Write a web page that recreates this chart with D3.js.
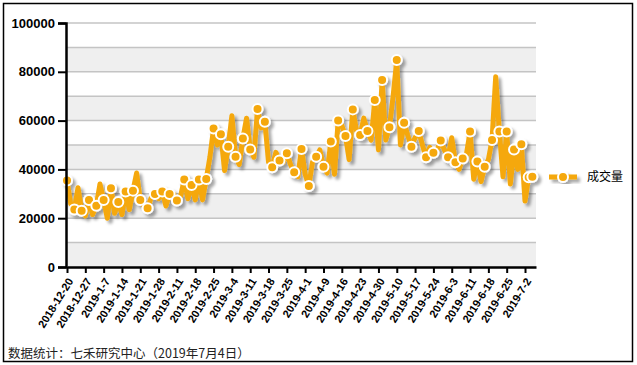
<!DOCTYPE html>
<html>
<head>
<meta charset="utf-8">
<script src="https://cdn.jsdelivr.net/npm/d3@7"></script>
<style>
  body { margin: 0; background: #fff; }
  svg { display: block; }
  .tick text { font-family: "Liberation Sans", Arial, sans-serif; font-weight: bold; fill: #000; }
</style>
</head>
<body>
<div id="graf"></div>
<script>
// x tick labels, one every 5 trading days
const tickLabels = ['2018-12-20', '2018-12-27', '2019-1-7', '2019-1-14', '2019-1-21', '2019-1-28',
  '2019-2-11', '2019-2-18', '2019-2-25', '2019-3-4', '2019-3-11', '2019-3-18', '2019-3-25',
  '2019-4-1', '2019-4-9', '2019-4-16', '2019-4-23', '2019-4-30', '2019-5-10', '2019-5-17',
  '2019-5-24', '2019-6-3', '2019-6-11', '2019-6-18', '2019-6-25', '2019-7-2']

// 成交量, daily values
const volumes = [
  35400, 26000, 23600, 32500, 23100, 21000, 27500, 21500, 25100, 34000,
  27500, 20000, 32300, 22000, 26600, 21500, 30900, 23500, 31300, 38500,
  27500, 25000, 24100, 28500, 29900, 28000, 30900, 25000, 29900, 30000,
  27300, 29000, 35900, 28000, 33600, 27500, 35900, 27500, 36100, 45000,
  56800, 50000, 54400, 39500, 49300, 62000, 45200, 42000, 52700, 61000,
  48200, 45000, 64800, 57000, 59500, 43000, 40900, 47000, 43600, 43000,
  46600, 42000, 38800, 37000, 48400, 38000, 33200, 43000, 45200, 48000,
  41100, 38500, 51400, 38000, 60000, 58000, 53700, 44000, 64600, 56000,
  54100, 61000, 55700, 52000, 68400, 48000, 76600, 52000, 57300, 70000,
  84800, 50000, 59100, 54000, 49300, 53000, 55700, 50000, 45000, 49000,
  46800, 48000, 51800, 48000, 45000, 53000, 42900, 40000, 44500, 46000,
  55500, 36000, 43200, 35000, 41100, 44000, 52000, 78000, 55500, 37000,
  55500, 34000, 48200, 40000, 50300, 27000, 36800, 37000]

const yTicks = [0, 20000, 40000, 60000, 80000, 100000]
const seriesName = '成交量'
const footNote = '数据统计：七禾研究中心（2019年7月4日）'

const W = 637, H = 365
const mLeft = 66, mRight = 536, mTop = 23, mBottom = 267
const orange = '#f5a80a'

const svg = d3.select('#graf').append('svg')
  .attr('width', W).attr('height', H)

const defs = svg.append('defs')
const f = defs.append('filter').attr('id', 'shadow')
  .attr('x', '-10%').attr('y', '-10%').attr('width', '130%').attr('height', '130%')
f.append('feDropShadow').attr('dx', 3).attr('dy', 3).attr('stdDeviation', 1.8)
  .attr('flood-color', '#000').attr('flood-opacity', 0.35)

// frame
svg.append('rect').attr('x', 3.5).attr('y', 3.5).attr('width', 629).attr('height', 358)
  .attr('fill', 'none').attr('stroke', '#000').attr('stroke-width', 1.5)

const x = d3.scaleLinear().domain([0, volumes.length]).range([mLeft + 1, mRight])
const y = d3.scaleLinear().domain([0, 100000]).range([mBottom, mTop])

// alternating bands + grid
const bands = d3.range(0, 100000, 20000)
svg.append('g').selectAll('rect').data(bands).enter().append('rect')
  .attr('x', mLeft).attr('width', mRight - mLeft)
  .attr('y', d => y(d + 10000)).attr('height', d => y(d) - y(d + 10000))
  .attr('fill', '#efefef')

svg.append('g').selectAll('line').data(d3.range(10000, 100001, 10000)).enter().append('line')
  .attr('x1', mLeft).attr('x2', mRight)
  .attr('y1', d => y(d)).attr('y2', d => y(d))
  .attr('stroke', '#c4c4c4').attr('stroke-width', 1.5)

// series
const lineGen = d3.line().x((d, i) => x(i)).y(d => y(d))
const series = svg.append('g').attr('filter', 'url(#shadow)')
series.append('path').datum(volumes)
  .attr('d', lineGen)
  .attr('fill', 'none').attr('stroke', orange).attr('stroke-width', 5)
  .attr('stroke-linejoin', 'round')

const last = volumes.length - 1
const marked = volumes.map((v, i) => ({ v, i })).filter(d => d.i % 2 === 0 || d.i === last)
series.selectAll('circle').data(marked).enter().append('circle')
  .attr('cx', d => x(d.i)).attr('cy', d => y(d.v)).attr('r', 5)
  .attr('fill', orange).attr('stroke', '#fff').attr('stroke-width', 2)

// axes
const yAxis = d3.axisLeft(y).tickValues(yTicks).tickSize(8).tickPadding(3).tickFormat(d3.format('d'))
svg.append('g').attr('transform', `translate(${mLeft},0)`).call(yAxis)
  .call(g => g.selectAll('.tick line').attr('stroke-width', 2))
  .call(g => g.select('.domain').attr('stroke-width', 2.5))
  .call(g => g.selectAll('.tick text').attr('font-size', 13))

const xAxis = d3.axisBottom(x).tickValues(d3.range(0, volumes.length - 2, 5))
  .tickSize(6).tickSizeOuter(0).tickFormat((d, i) => tickLabels[i])
svg.append('g').attr('transform', `translate(0,${mBottom})`).call(xAxis)
  .call(g => g.selectAll('.tick line').attr('stroke-width', 2))
  .call(g => g.select('.domain').attr('stroke-width', 2.5))
  .call(g => g.selectAll('.tick text')
    .attr('font-size', 11)
    .attr('text-anchor', 'end')
    .attr('dy', '0.35em')
    .attr('transform', 'translate(3,12) rotate(-58)')
    .attr('y', 0).attr('x', 0))

// legend
const lg = svg.append('g').attr('transform', 'translate(549,177)')
lg.append('g').attr('filter', 'url(#shadow)').call(g => {
  g.append('line').attr('x1', 0).attr('x2', 28).attr('stroke', orange).attr('stroke-width', 5)
  g.append('circle').attr('cx', 14).attr('r', 5).attr('fill', orange)
    .attr('stroke', '#fff').attr('stroke-width', 2)
})
lg.append('text').attr('x', 38).attr('dy', '0.35em')
  .attr('font-family', '"Noto Sans CJK SC", sans-serif').attr('font-size', 12)
  .text(seriesName)

svg.append('text').attr('x', 8).attr('y', 358)
  .attr('font-family', '"Noto Sans CJK SC", sans-serif').attr('font-size', 12.5)
  .attr('fill', '#222')
  .text(footNote)
</script>
</body>
</html>
